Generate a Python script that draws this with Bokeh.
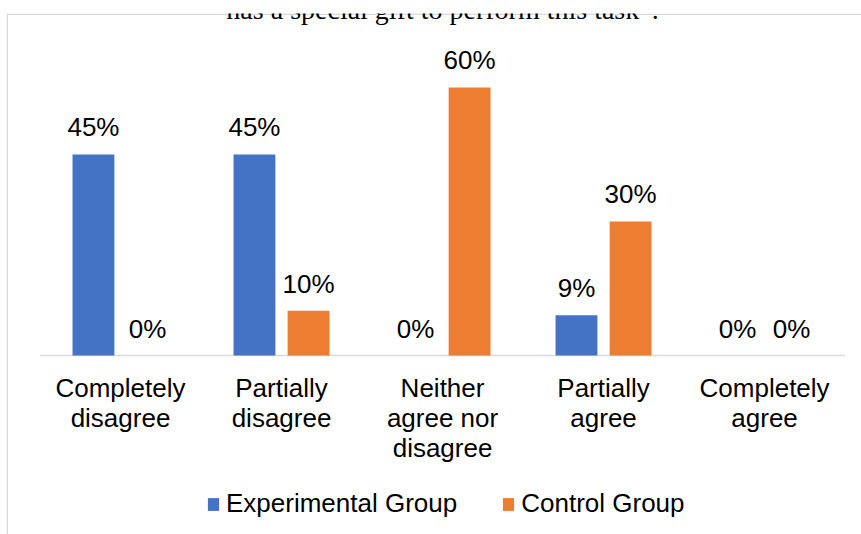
from bokeh.plotting import figure
from bokeh.models import ColumnDataSource, Range1d, Legend, LegendItem, Label, Span
from bokeh.transform import dodge
from bokeh.core.properties import value
from bokeh.embed import file_html
from bokeh.resources import INLINE

# ---- data ----
categories = ["Completely\ndisagree", "Partially\ndisagree", "Neither\nagree nor\ndisagree",
              "Partially\nagree", "Completely\nagree"]
experimental = [45, 45, 0, 9, 0]
control = [0, 10, 60, 30, 0]
series_names = ["Experimental Group", "Control Group"]
title_text = "has a special gift to perform this task\u201d."

BLUE = "#4472C4"
ORANGE = "#ED7D31"
GRID = "#D9D9D9"
FONT = "Liberation Sans"

n = len(categories)
xs = list(range(n))
src = ColumnDataSource(dict(
    x=xs,
    cat=categories,
    exp=experimental,
    ctl=control,
    exp_lbl=[f"{v}%" for v in experimental],
    ctl_lbl=[f"{v}%" for v in control],
    zero=[0] * n,
))

X0, X1 = -0.708, 4.602
Y0, Y1 = -40.07, 76.56
PX_X = 855 / (X1 - X0)
PX_Y = 521 / (Y1 - Y0)

p = figure(width=861, height=534, output_backend="svg", toolbar_location=None,
           x_range=Range1d(X0, X1), y_range=Range1d(Y0, Y1),
           x_axis_location=None, y_axis_location=None,
           min_border_left=6, min_border_top=13, min_border_right=0, min_border_bottom=0)
p.xgrid.visible = False
p.ygrid.visible = False
p.outline_line_color = None
p.background_fill_color = "white"
p.border_fill_color = "white"

# chart-area border (only top and left edges are visible in the reference)
p.add_layout(Span(location=Y1 - 0.8 / PX_Y, dimension="width",
                  line_color=GRID, line_width=1.5))
p.add_layout(Span(location=X0 + 0.8 / PX_X, dimension="height",
                  line_color=GRID, line_width=1.5))

off = 0.168
bw = 0.26

# baseline
p.line(x=[xs[0] - 0.5, xs[-1] + 0.5], y=[0, 0], line_color=GRID, line_width=1.5)

r1 = p.vbar(x=dodge("x", -off, range=p.x_range), top="exp", width=bw, source=src,
            fill_color=BLUE, line_color=None)
r2 = p.vbar(x=dodge("x", off, range=p.x_range), top="ctl", width=bw, source=src,
            fill_color=ORANGE, line_color=None)

# value labels
for col, lbl, o in (("exp", "exp_lbl", -off), ("ctl", "ctl_lbl", off)):
    p.text(x=dodge("x", o, range=p.x_range), y=col, text=lbl, source=src,
           text_align="center", text_baseline="alphabetic", y_offset=-27,
           text_font=value(FONT), text_font_size="26px", text_color="#000000")

# category labels
p.text(x="x", y="zero", text="cat", source=src, text_align="center",
       text_baseline="top", y_offset=17, text_line_height=1.0,
       text_font=value(FONT), text_font_size="26px", text_color="#000000")

# legend
legend = Legend(items=[LegendItem(label=series_names[0], renderers=[r1]),
                       LegendItem(label=series_names[1], renderers=[r2])],
                location=(200, 15), orientation="horizontal",
                glyph_width=14, glyph_height=16, label_standoff=6, spacing=44,
                padding=0, margin=0, border_line_color=None,
                background_fill_alpha=0,
                label_text_font=FONT, label_text_font_size="26px",
                label_text_color="#000000")
p.add_layout(legend)

# (cut-off) title
p.add_layout(Label(x=(n - 1) / 2, y=Y1 + 4 / PX_Y, text=title_text,
                   text_align="center", text_baseline="alphabetic",
                   text_font="Liberation Serif", text_font_size="28px",
                   text_color="#000000"))

open("out.html", "w").write(file_html(p, INLINE))
